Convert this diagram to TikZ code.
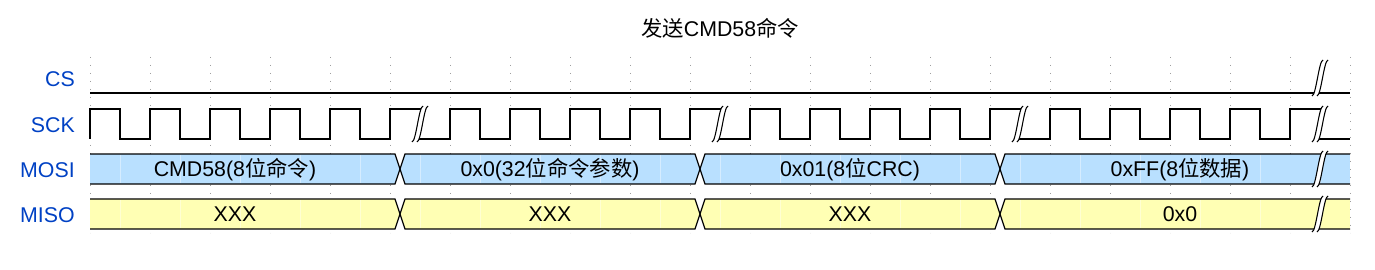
\documentclass[tikz,border=0pt]{standalone}
\usepackage{fontspec}
\setmainfont{Liberation Sans}
\newfontfamily\cjk{Noto Sans CJK SC}

\definecolor{lanelbl}{HTML}{0041C4}
\definecolor{mosifill}{HTML}{B9E0FF}
\definecolor{misofill}{HTML}{FFFFB4}

% break mark drawn over a lane: #1 centre x, #2 centre y
\newcommand{\wavegap}[2]{%
  \fill[white] (#1-8,#2+18) .. controls (#1-4,#2+18) and (#1-1,#2-18) .. (#1+3,#2-18) -- (#1+8,#2-18) .. controls (#1+4,#2-18) and (#1+1,#2+18) .. (#1-3,#2+18) -- cycle;
  \draw[gapline] (#1-8,#2+18) .. controls (#1-4,#2+18) and (#1-1,#2-18) .. (#1+3,#2-18);
  \draw[gapline] (#1-3,#2+18) .. controls (#1+1,#2+18) and (#1+4,#2-18) .. (#1+8,#2-18);
}

\begin{document}
\begin{tikzpicture}[x=0.75pt,y=0.75pt,yscale=-1,xscale=1,
  wave/.style={line width=0.9pt, line join=miter},
  gridline/.style={gray!75, line width=0.6pt, dash pattern=on 0.75pt off 5.25pt},
  seam/.style={white, opacity=0.4, line width=0.5pt},
  gapline/.style={line width=0.8pt},
  lanename/.style={anchor=base east, inner sep=0pt, text=lanelbl, font=\fontsize{16}{19}\selectfont},
  bustext/.style={anchor=base, inner sep=0pt, font=\fontsize{16}{19}\selectfont}]
\useasboundingbox (0,0) rectangle (1375,270);

%Grid
\foreach \gx in {90,150,...,1350} \draw[gridline] (\gx,57) -- (\gx,233);

% Text Node
\node[bustext] (title) at (720,36.5) {{\cjk 发送}CMD58{\cjk 命令}};

% Text Node
\node[lanename] (lblcs) at (75,87) {CS};
% Text Node
\node[lanename] (lblsck) at (75,132.5) {SCK};
% Text Node
\node[lanename] (lblmosi) at (75,178) {MOSI};
% Text Node
\node[lanename] (lblmiso) at (75,222.5) {MISO};

%Shape: CS line
\draw[wave] (90,93) -- (1350,93);

%Shape: SCK clock
\draw[wave] (90,139) \foreach \r in {90,150,...,330} { -- (\r,109) -- (\r+30,109) -- (\r+30,139) -- (\r+60,139) } -- (390,109) -- (422,109);
\draw[wave] (418,139) -- (450,139) \foreach \r in {450,510,...,630} { -- (\r,109) -- (\r+30,109) -- (\r+30,139) -- (\r+60,139) } -- (690,109) -- (722,109);
\draw[wave] (718,139) -- (750,139) \foreach \r in {750,810,...,930} { -- (\r,109) -- (\r+30,109) -- (\r+30,139) -- (\r+60,139) } -- (990,109) -- (1022,109);
\draw[wave] (1018,139) -- (1050,139) \foreach \r in {1050,1110,...,1230} { -- (\r,109) -- (\r+30,109) -- (\r+30,139) -- (\r+60,139) } -- (1290,109) -- (1322,109);
\draw[wave] (1318,139) -- (1350,139);

%Shape: MOSI / MISO buses
\fill[mosifill] (90,154) rectangle (1350,184);
\fill[misofill] (90,199) rectangle (1350,229);
\foreach \sx in {120,180,...,1320} {
  \draw[seam] (\sx,155) -- (\sx,183);
  \draw[seam] (\sx,200) -- (\sx,228);
}
\foreach \tx in {400,700,1000} {
  \fill[white] (\tx-5,154) -- (\tx+5,154) -- (\tx,169) -- cycle;
  \fill[white] (\tx-5,184) -- (\tx+5,184) -- (\tx,169) -- cycle;
  \fill[white] (\tx-5,199) -- (\tx+5,199) -- (\tx,214) -- cycle;
  \fill[white] (\tx-5,229) -- (\tx+5,229) -- (\tx,214) -- cycle;
}
\draw[wave] (90,154) -- (395,154) -- (405,184) -- (695,184) -- (705,154) -- (995,154) -- (1005,184) -- (1350,184);
\draw[wave] (90,184) -- (395,184) -- (405,154) -- (695,154) -- (705,184) -- (995,184) -- (1005,154) -- (1350,154);
\draw[wave] (90,199) -- (395,199) -- (405,229) -- (695,229) -- (705,199) -- (995,199) -- (1005,229) -- (1350,229);
\draw[wave] (90,229) -- (395,229) -- (405,199) -- (695,199) -- (705,229) -- (995,229) -- (1005,199) -- (1350,199);

% Text Node
\node[bustext] (mosia) at (235,177) {CMD58(8{\cjk 位命令})};
% Text Node
\node[bustext] (mosib) at (550,177) {0x0(32{\cjk 位命令参数})};
% Text Node
\node[bustext] (mosic) at (850,177) {0x01(8{\cjk 位}CRC)};
% Text Node
\node[bustext] (mosid) at (1180,177) {0xFF(8{\cjk 位数据})};
% Text Node
\node[bustext] (misoa) at (235,222) {XXX};
% Text Node
\node[bustext] (misob) at (550,222) {XXX};
% Text Node
\node[bustext] (misoc) at (850,222) {XXX};
% Text Node
\node[bustext] (misod) at (1180,222) {0x0};

%Shape: break marks
\wavegap{1320}{78}
\foreach \gx in {420,720,1020,1320} {\wavegap{\gx}{124}}
\wavegap{1320}{169}
\wavegap{1320}{214}

\end{tikzpicture}
\end{document}
